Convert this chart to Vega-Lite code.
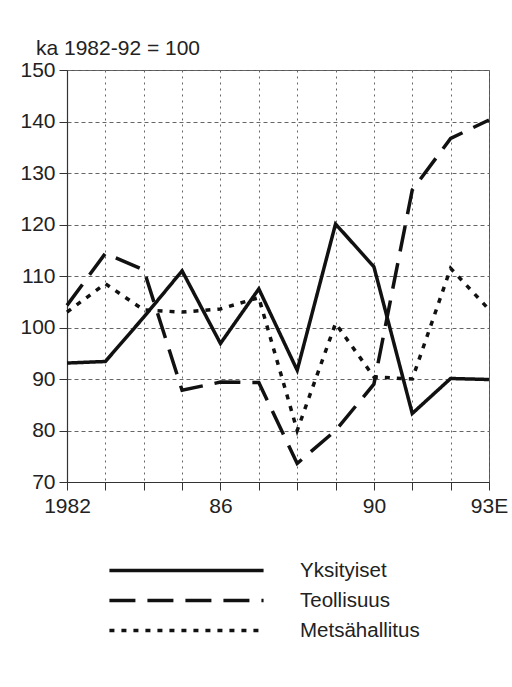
{
  "$schema": "https://vega.github.io/schema/vega-lite/v6.json",
  "width": 422,
  "height": 412,
  "autosize": "none",
  "padding": {"left": 67, "top": 70, "right": 23, "bottom": 205},
  "background": "#ffffff",
  "title": {
    "text": "ka 1982-92 = 100",
    "anchor": "start",
    "frame": "group",
    "dx": -31,
    "dy": 26,
    "offset": 9,
    "baseline": "alphabetic",
    "font": "Liberation Sans",
    "fontSize": 21,
    "fontWeight": "normal",
    "color": "#222"
  },
  "data": {
    "values": [
      {"year": 1982, "series": "Yksityiset", "value": 93.1},
      {"year": 1983, "series": "Yksityiset", "value": 93.4},
      {"year": 1984, "series": "Yksityiset", "value": 102},
      {"year": 1985, "series": "Yksityiset", "value": 111},
      {"year": 1986, "series": "Yksityiset", "value": 96.9},
      {"year": 1987, "series": "Yksityiset", "value": 107.5},
      {"year": 1988, "series": "Yksityiset", "value": 91.7},
      {"year": 1989, "series": "Yksityiset", "value": 120.1},
      {"year": 1990, "series": "Yksityiset", "value": 111.8},
      {"year": 1991, "series": "Yksityiset", "value": 83.3},
      {"year": 1992, "series": "Yksityiset", "value": 90.1},
      {"year": 1993, "series": "Yksityiset", "value": 89.9},
      {"year": 1982, "series": "Teollisuus", "value": 104.3},
      {"year": 1983, "series": "Teollisuus", "value": 114.4},
      {"year": 1984, "series": "Teollisuus", "value": 111.2},
      {"year": 1985, "series": "Teollisuus", "value": 87.8},
      {"year": 1986, "series": "Teollisuus", "value": 89.4},
      {"year": 1987, "series": "Teollisuus", "value": 89.3},
      {"year": 1988, "series": "Teollisuus", "value": 73.6},
      {"year": 1989, "series": "Teollisuus", "value": 80},
      {"year": 1990, "series": "Teollisuus", "value": 89},
      {"year": 1991, "series": "Teollisuus", "value": 126.7},
      {"year": 1992, "series": "Teollisuus", "value": 136.7},
      {"year": 1993, "series": "Teollisuus", "value": 140.3},
      {"year": 1982, "series": "Metsähallitus", "value": 103},
      {"year": 1983, "series": "Metsähallitus", "value": 108.5},
      {"year": 1984, "series": "Metsähallitus", "value": 103.4},
      {"year": 1985, "series": "Metsähallitus", "value": 103},
      {"year": 1986, "series": "Metsähallitus", "value": 103.6},
      {"year": 1987, "series": "Metsähallitus", "value": 105.8},
      {"year": 1988, "series": "Metsähallitus", "value": 80},
      {"year": 1989, "series": "Metsähallitus", "value": 100.8},
      {"year": 1990, "series": "Metsähallitus", "value": 90.4},
      {"year": 1991, "series": "Metsähallitus", "value": 90},
      {"year": 1992, "series": "Metsähallitus", "value": 111.5},
      {"year": 1993, "series": "Metsähallitus", "value": 103.5}
    ]
  },
  "mark": {"type": "line", "strokeWidth": 3.5, "color": "#111", "strokeCap": "butt", "strokeJoin": "miter"},
  "encoding": {
    "x": {
      "field": "year",
      "type": "quantitative",
      "scale": {"domain": [1982, 1993], "nice": false, "zero": false},
      "axis": {
        "title": null,
        "values": [1982, 1983, 1984, 1985, 1986, 1987, 1988, 1989, 1990, 1991, 1992, 1993],
        "labelExpr": "datum.value == 1982 ? '1982' : datum.value == 1986 ? '86' : datum.value == 1990 ? '90' : datum.value == 1993 ? '93E' : ''",
        "labelFont": "Liberation Sans",
        "labelFontSize": 21,
        "labelColor": "#222",
        "labelPadding": 5,
        "labelOverlap": false,
        "labelFlush": false,
        "tickSize": 8,
        "tickColor": "#333",
        "domainColor": "#333",
        "domainWidth": 1.2,
        "grid": true,
        "gridDash": [2, 4],
        "gridColor": "#666",
        "gridWidth": 1
      }
    },
    "y": {
      "field": "value",
      "type": "quantitative",
      "scale": {"domain": [70, 150], "nice": false, "zero": false},
      "axis": {
        "title": null,
        "values": [70, 80, 90, 100, 110, 120, 130, 140, 150],
        "labelFont": "Liberation Sans",
        "labelFontSize": 21,
        "labelColor": "#222",
        "labelPadding": 4,
        "labelFlush": false,
        "labelOverlap": false,
        "tickSize": 8,
        "tickColor": "#333",
        "domainColor": "#333",
        "domainWidth": 1.2,
        "grid": true,
        "gridDash": [4, 3],
        "gridColor": "#666",
        "gridWidth": 1
      }
    },
    "strokeDash": {
      "field": "series",
      "type": "nominal",
      "scale": {
        "domain": ["Yksityiset", "Teollisuus", "Metsähallitus"],
        "range": [[1, 0], [26, 12], [5, 7]]
      },
      "legend": {
        "title": null,
        "orient": "none",
        "legendX": 100,
        "legendY": 481,
        "symbolType": "M-4.45,0L4.45,0",
        "symbolSize": 1200,
        "symbolStrokeWidth": 3.5,
        "symbolStrokeColor": "#111",
        "symbolFillColor": "transparent",
        "labelFont": "Liberation Sans",
        "labelFontSize": 20.5,
        "labelColor": "#222",
        "labelOffset": 94,
        "rowPadding": 0,
        "padding": 0
      }
    }
  },
  "config": {
    "view": {"stroke": "#555", "strokeWidth": 1}
  }
}
